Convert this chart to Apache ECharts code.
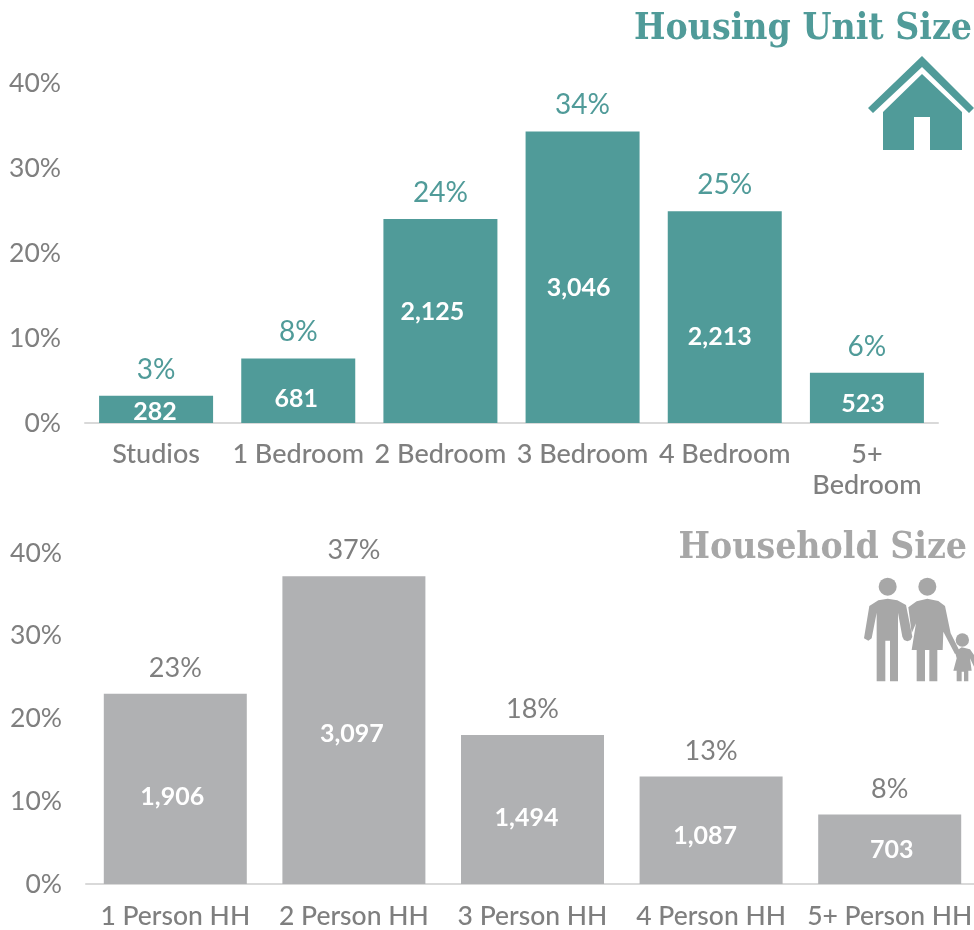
<!DOCTYPE html>
<html><head><meta charset="utf-8">
<style>html,body{margin:0;padding:0;background:#fff}#c{width:974px;height:930px}</style>
<script src="https://cdn.jsdelivr.net/npm/echarts@6/dist/echarts.min.js"></script>
</head><body><div id="c"></div>
<script>
const unitCategories = ['Studios','1 Bedroom','2 Bedroom','3 Bedroom','4 Bedroom','5+\nBedroom'];
const unitShare = [3.2,7.6,24.0,34.3,24.9,5.9];
const unitCounts = ['282','681','2,125','3,046','2,213','523'];
const hhCategories = ['1 Person HH','2 Person HH','3 Person HH','4 Person HH','5+ Person HH'];
const hhShare = [23.0,37.2,18.0,13.0,8.4];
const hhCounts = ['1,906','3,097','1,494','1,087','703'];
// hand-placed label nudges of the count labels, as in the original graphic
const unitNudge = [[-1,3],[-2,8],[-8,-9],[-4,11],[-5,20],[-4,6]];
const hhNudge = [[-3,8],[-2,4],[-6,8],[-6,6],[2,1]];

const TEAL='#509b99', GREY='#b0b1b3', AXIS='#7f7f7f', TITLEGREY='#a7a7a7', FONT='Lato';
const chart = echarts.init(document.getElementById('c'),null,{renderer:'canvas'});

function yAxis(i){return {gridIndex:i,type:'value',min:0,max:40,interval:10,
  axisLine:{show:false},axisTick:{show:false},splitLine:{show:false},
  axisLabel:{formatter:'{value}%',color:AXIS,fontFamily:FONT,fontSize:26.5,margin:24}};}
function xAxis(i,cats,size,margin){return {gridIndex:i,type:'category',data:cats,
  axisLine:{lineStyle:{color:'#d9d9d9',width:2}},axisTick:{show:false},
  axisLabel:{color:AXIS,fontFamily:FONT,fontSize:size,margin,lineHeight:31,interval:0,hideOverlap:false,fontWeight:500}};}
function bars(i,vals,counts,nudge,color,pctColor,w,pctSize){
  return [{type:'bar',xAxisIndex:i,yAxisIndex:i,barWidth:w,barGap:'-100%',silent:true,
    data:vals.map((v,k)=>({value:v,label:{offset:nudge[k]}})),
    itemStyle:{color},
    label:{show:true,position:'inside',color:'#fff',fontFamily:FONT,fontSize:25,fontWeight:'bold',
      formatter:p=>counts[p.dataIndex]}},
   {type:'bar',xAxisIndex:i,yAxisIndex:i,data:vals,barWidth:w,barGap:'-100%',silent:true,
    itemStyle:{color:'transparent'},
    label:{show:true,position:'top',distance:12,color:pctColor,fontFamily:FONT,fontSize:pctSize,
      formatter:p=>Math.round(p.value)+'%'}}];
}
const titleStyle=(text,fill)=>({text,fill,font:'bold 37px "DejaVu Serif Condensed","DejaVu Serif"',textAlign:'right',textVerticalAlign:'middle'});
const poly=(pts)=>({type:'polygon',shape:{points:pts},style:{fill:TITLEGREY}});
chart.setOption({
  animation:false,backgroundColor:'#fff',
  grid:[{left:85,top:83,width:853,height:340,outerBoundsMode:'none'},{left:86,top:553,width:893,height:331,outerBoundsMode:'none'}],
  xAxis:[xAxis(0,unitCategories,27,16),xAxis(1,hhCategories,26.5,17)],
  yAxis:[yAxis(0),yAxis(1)],
  series:[...bars(0,unitShare,unitCounts,unitNudge,TEAL,TEAL,114,28),...bars(1,hhShare,hhCounts,hhNudge,GREY,AXIS,143,27)],
  graphic:[
   {type:'text',x:972,y:29,style:titleStyle('Housing Unit Size',TEAL)},
   {type:'text',x:967,y:548,style:titleStyle('Household Size',TITLEGREY)},
   {type:'polygon',shape:{points:[[868,108],[873,113],[922,67],[969,113],[974,108],[922,56]]},style:{fill:TEAL}},
   {type:'polygon',shape:{points:[[922,74],[962,112],[962,150],[930,150],[930,117],[914,117],[914,150],[883,150],[883,112]]},style:{fill:TEAL}},
   {type:'group',x:660,y:520,scaleX:1/3,scaleY:1/3,children:[
     {type:'circle',shape:{cx:683,cy:200,r:27},style:{fill:TITLEGREY}},
     {type:'circle',shape:{cx:802,cy:200,r:27},style:{fill:TITLEGREY}},
     {type:'circle',shape:{cx:907,cy:360,r:20},style:{fill:TITLEGREY}},
     poly([[628,258],[655,241],[683,236],[712,241],[738,255],[757,350],[752,360],[742,364],[732,360],[727,350],[714,278],[714,484],[690,484],[690,362],[676,362],[676,484],[650,484],[650,278],[635,355],[625,362],[612,355]]),
     poly([[745,262],[770,244],[802,236],[835,243],[855,258],[872,340],[900,395],[885,402],[850,335],[848,390],[832,390],[832,484],[808,484],[808,390],[795,390],[795,484],[770,484],[770,390],[755,390],[768,310],[755,340]]),
     poly([[885,395],[905,382],[930,388],[942,405],[942,440],[930,415],[935,452],[925,452],[925,484],[912,484],[912,455],[905,455],[905,484],[890,484],[890,452],[880,452],[890,415]])
   ]}
  ]
});
</script></body></html>
